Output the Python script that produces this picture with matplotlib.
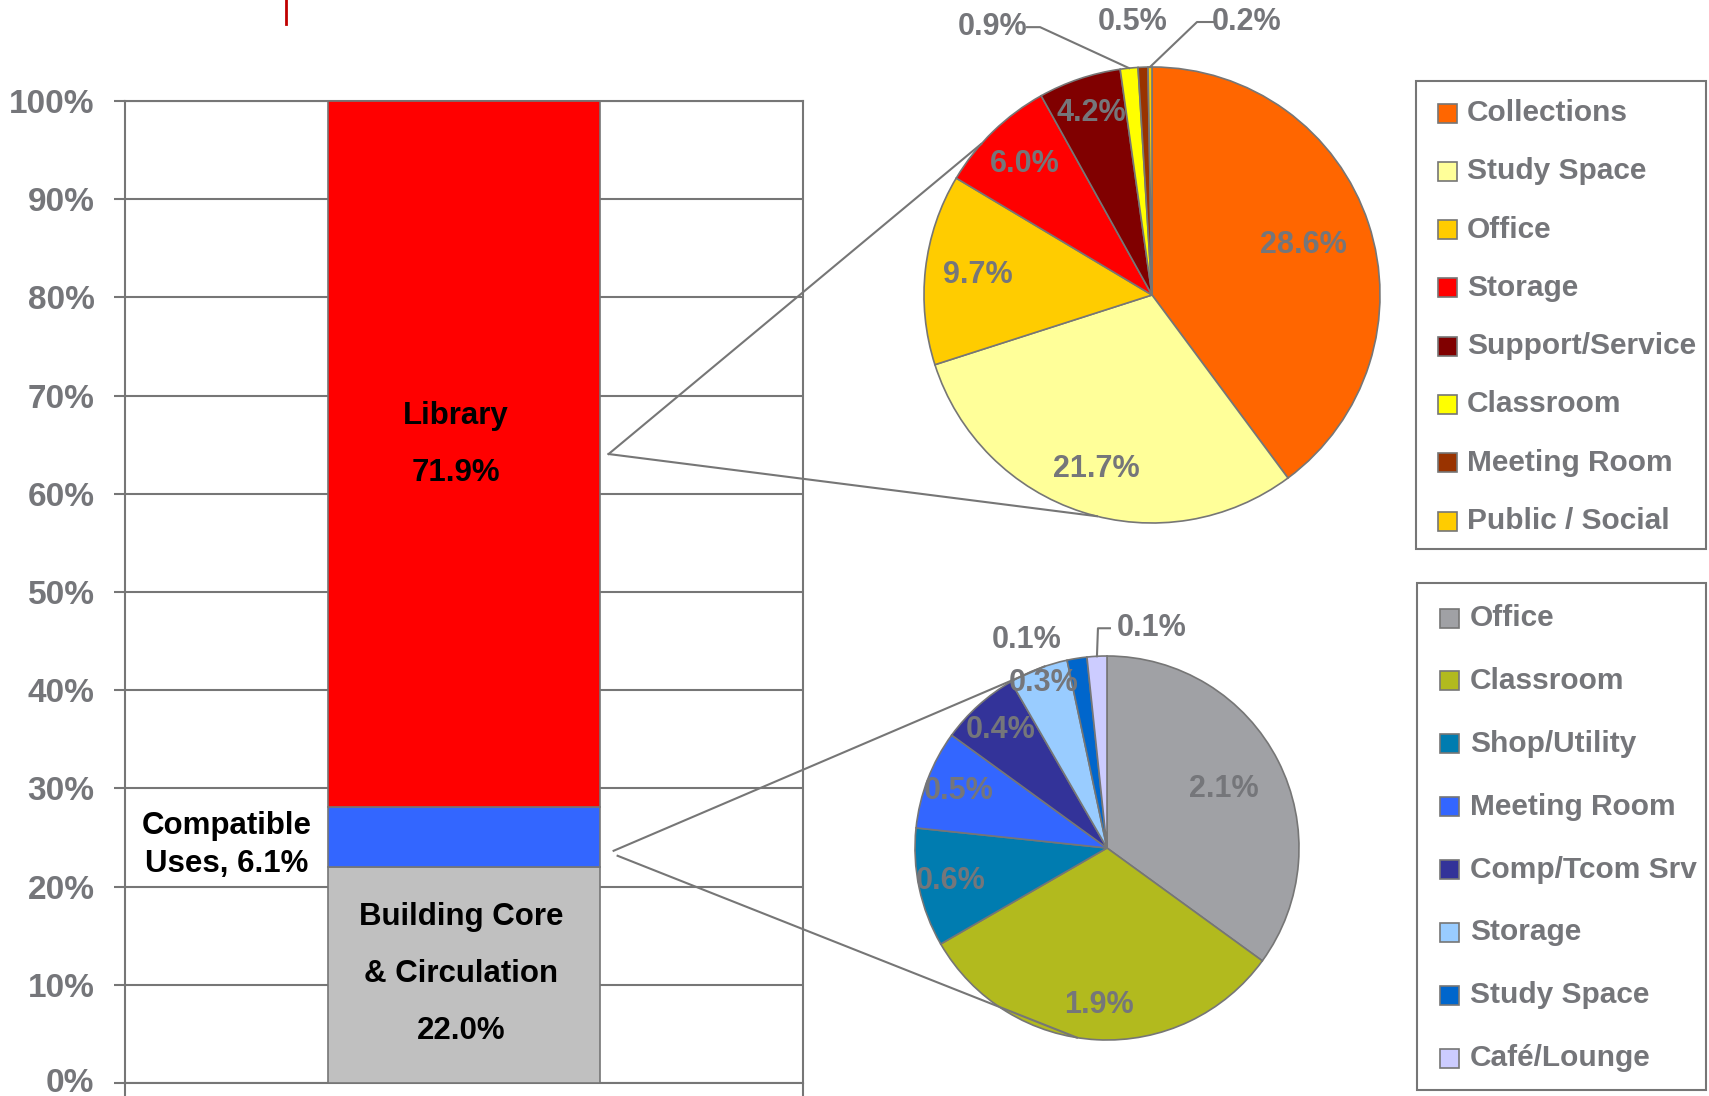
import numpy as np
import matplotlib.pyplot as plt
import matplotlib.transforms as mtransforms
from matplotlib.patches import Rectangle

W, H = 1709, 1096

# overall split of the building area (percent)
segment_names = ['Building Core\n& Circulation', 'Compatible\nUses', 'Library']
segment_values = [22.0, 6.1, 71.9]
segment_colors = ['#C0C0C0', '#3366FF', '#FF0000']

# breakdown of the library share
library_cats = ['Collections', 'Study Space', 'Office', 'Storage',
                'Support/Service', 'Classroom', 'Meeting Room', 'Public / Social']
library_values = [28.6, 21.7, 9.7, 6.0, 4.2, 0.9, 0.5, 0.2]
library_colors = ['#FF6600', '#FFFF99', '#FFCC00', '#FF0000',
                  '#800000', '#FFFF00', '#993300', '#FFCC00']

# breakdown of the compatible uses share
compat_cats = ['Office', 'Classroom', 'Shop/Utility', 'Meeting Room',
               'Comp/Tcom Srv', 'Storage', 'Study Space', 'Café/Lounge']
compat_values = [2.1, 1.9, 0.6, 0.5, 0.4, 0.3, 0.1, 0.1]
compat_colors = ['#A0A1A5', '#B2BA1E', '#007CB0', '#3366FF',
                 '#333399', '#99CCFF', '#0066CC', '#CCCCFF']

y_ticks = list(range(0, 101, 10))

GRAY = '#75767A'
LINE = '#767676'

plt.rcParams['font.family'] = ['Liberation Sans', 'DejaVu Sans']
plt.rcParams['font.weight'] = 'bold'

fig = plt.figure(figsize=(W / 100, H / 100), dpi=100)


def top(y):
    """pixel row measured from the top -> figure pixel from the bottom"""
    return H - y


# ---- stacked bar ----
bax = fig.add_axes([125 / W, (H - 1083) / H, 678 / W, 982 / H])
bottoms = np.concatenate([[0], np.cumsum(segment_values)[:-1]])
bax.bar(0.5, segment_values, bottom=bottoms, width=0.4, color=segment_colors,
        edgecolor=LINE, linewidth=1.2, zorder=3)
bax.set_xlim(0, 1)
bax.set_ylim(0, 100)
bax.set_yticks(y_ticks)
bax.set_yticklabels([f'{t}%' for t in y_ticks], fontsize=24, color=GRAY,
                    fontweight='bold')
bax.set_xticks([0, 1])
bax.set_xticklabels([])
bax.tick_params(axis='y', length=8, width=1.5, color=LINE, pad=14)
bax.tick_params(axis='x', length=10, width=1.5, color=LINE)
bax.grid(axis='y', color=LINE, linewidth=1.5)
bax.set_axisbelow(True)
for s in bax.spines.values():
    s.set_color(LINE)
    s.set_linewidth(1.5)

# keep the 0% label inside the canvas
zero_lab = bax.get_yticklabels()[0]
zero_lab.set_transform(zero_lab.get_transform() +
                       mtransforms.ScaledTranslation(0, 3 / 100, fig.dpi_scale_trans))

mids = bottoms + np.array(segment_values) / 2
lab_kw = dict(textcoords='offset pixels', ha='center', va='center',
              fontsize=22.5, fontweight='bold', color='black', zorder=5)

# library label inside the bar
for line, dy in zip(['Library', f'{segment_values[2]:.1f}%'], [28, -29]):
    bax.annotate(line, (0.5, mids[2]), xytext=(-8, dy + 10), **lab_kw)

# building core label inside the bar
core_lines = segment_names[0].split('\n') + [f'{segment_values[0]:.1f}%']
for line, dy in zip(core_lines, [57, 0, -57]):
    bax.annotate(line, (0.5, mids[0]), xytext=(-3, dy + 1), **lab_kw)

# compatible uses label to the left of the bar
comp_lines = ['Compatible', f'Uses, {segment_values[1]:.1f}%']
for line, dy in zip(comp_lines, [19, -19]):
    bax.annotate(line, (0.15, mids[1]), xytext=(0, dy - 8), **lab_kw)

# ---- overlay in figure pixels for pies, connectors and legends ----
ov = fig.add_axes([0, 0, 1, 1])
ov.patch.set_visible(False)


def draw_pie(values, colors, center, radius, label_r, outside):
    cx, cy = center
    wedges, _ = ov.pie(values, colors=colors, startangle=90, counterclock=False,
                       radius=radius, center=(cx, cy), frame=True,
                       wedgeprops=dict(edgecolor=LINE, linewidth=1.2))
    for i, (w, v) in enumerate(zip(wedges, values)):
        mid = np.deg2rad((w.theta1 + w.theta2) / 2)
        ux, uy = np.cos(mid), np.sin(mid)
        text = f'{v:.1f}%'
        if i in outside:
            ex, ey = cx + radius * ux, cy + radius * uy
            tdx, tdy, leader = outside[i]
            ov.text(ex + tdx, ey + tdy, text, ha='center', va='center',
                    fontsize=22, color=GRAY, fontweight='bold', zorder=6)
            if leader:
                xs = [ex + leader[0], ex + leader[1], ex]
                ys = [ey + tdy, ey + tdy, ey]
                ov.plot(xs, ys, color=LINE, lw=1.5, zorder=6)
        else:
            r = label_r[i] * radius
            ov.text(cx + r * ux, cy + r * uy, text, ha='center', va='center',
                    fontsize=22, color=GRAY, fontweight='bold', zorder=6)
    return wedges


top_center = (1152, top(295))
top_radius = 228
draw_pie(library_values, library_colors, top_center, top_radius,
         [0.70, 0.80, 0.77, 0.80, 0.84],
         {5: (-137, 41, (-102, -89)),
          6: (-10, 45, None),
          7: (97, 45, (63, 47))})

bot_center = (1107, top(848))
bot_radius = 192
draw_pie(compat_values, compat_colors, bot_center, bot_radius,
         [0.68, 0.82, 0.83, 0.83, 0.83, 0.92],
         {6: (-50, 18, None),
          7: (55, 28, (13, 1))})


def connect(start, center, radius, angle):
    a = np.deg2rad(angle)
    ov.plot([start[0], center[0] + radius * np.cos(a)],
            [start[1], center[1] + radius * np.sin(a)],
            color=LINE, lw=1.5, zorder=7)


to_px = bax.transData.transform
lib_start = to_px((0.7, mids[2])) + np.array([9, 0])
connect(lib_start, top_center, top_radius, 138.5)
connect(lib_start, top_center, top_radius, -104)

comp_y = bottoms[1] + 0.27 * segment_values[1]
comp_start = to_px((0.7, comp_y))
connect(comp_start + np.array([14, 0]), bot_center, bot_radius, 109)
connect(comp_start + np.array([18, -5]), bot_center, bot_radius, -99)


def draw_legend(cats, colors, box, first_y, step, sq_x, text_x):
    left, btop, right, bbot = box
    ov.add_patch(Rectangle((left, top(bbot)), right - left, bbot - btop,
                           fill=False, edgecolor=LINE, lw=1.5, zorder=4))
    for i, (c, col) in enumerate(zip(cats, colors)):
        y = top(first_y + i * step)
        ov.add_patch(Rectangle((sq_x, y - 9.5), 19, 19, facecolor=col,
                               edgecolor=LINE, lw=1.2, zorder=5))
        ov.text(text_x, y, c, ha='left', va='center', fontsize=21.5,
                color=GRAY, fontweight='bold', zorder=5)


draw_legend(library_cats, library_colors, (1416, 81, 1706, 549),
            113, 58.3, 1438, 1467)
draw_legend(compat_cats, compat_colors, (1417, 583, 1706, 1090),
            618, 62.9, 1440, 1470)

# small red mark at the top edge
ov.plot([286, 286], [H, top(24)], color='#C00000', lw=2)

ov.set_xlim(0, W)
ov.set_ylim(0, H)
ov.set_aspect('auto')
ov.set_axis_off()

fig.savefig('out.png', dpi=100)
